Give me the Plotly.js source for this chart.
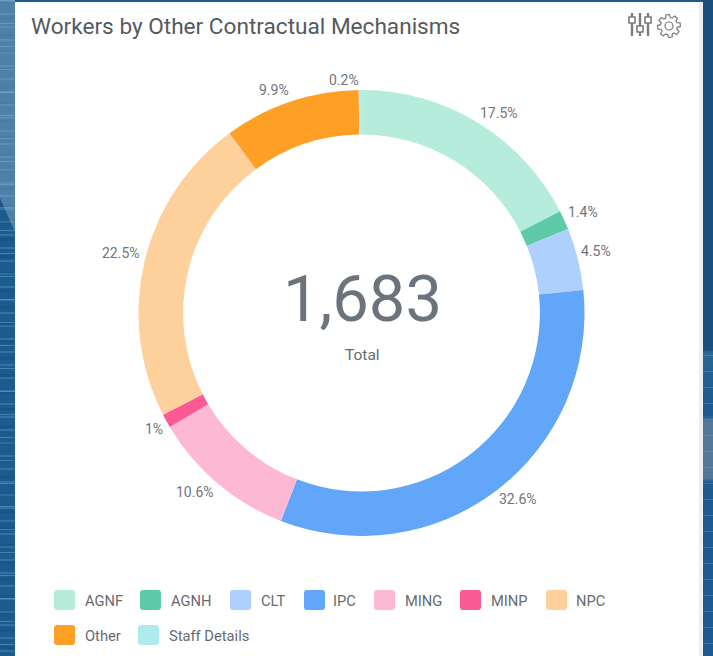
<!DOCTYPE html>
<html>
<head>
<meta charset="utf-8">
<script src="https://cdn.plot.ly/plotly-3.0.1.min.js"></script>
<style>
html,body{margin:0;padding:0;width:713px;height:656px;overflow:hidden;background:#1d5b8e;}
#stripes{position:absolute;left:0;top:0;width:15px;height:656px;background:
 repeating-linear-gradient(180deg,rgba(120,195,225,.40) 0 1px,rgba(0,0,0,0) 1px 23px),
 repeating-linear-gradient(180deg,rgba(70,150,195,.40) 0 2px,rgba(0,0,0,0) 2px 13px),
 repeating-linear-gradient(180deg,rgba(15,70,115,.30) 0 3px,rgba(0,0,0,0) 3px 17px);}
#light{position:absolute;left:0;top:0;width:15px;height:240px;background:rgba(170,195,215,.36);clip-path:polygon(0 0,100% 0,100% 232px,0 198px);}
#right{position:absolute;left:703px;top:0;width:10px;height:656px;background:
 linear-gradient(180deg,#1b4e7a 0,#1b4e7a 350px,#2a6795 352px,#1d5b8e 400px,#1d5b8e 415px,#54789a 422px,#54789a 478px,#1d5b8e 482px,#1d5b8e 656px);}
#right2{position:absolute;left:703px;top:355px;width:10px;height:301px;background:repeating-linear-gradient(180deg,rgba(100,170,210,.35) 0 1px,rgba(0,0,0,0) 1px 16px);}
#edge{position:absolute;left:699px;top:2px;width:4px;height:654px;background:#eeeeee;}
#chart{position:absolute;left:0;top:0;width:713px;height:656px;}
</style>
</head>
<body>
<div id="stripes"></div>
<div id="light"></div>
<div id="right"></div>
<div id="right2"></div>
<div id="chart"></div>
<script>
var categories = ["AGNF","AGNH","CLT","IPC","MING","MINP","NPC","Other","Staff Details"];
var percents = [17.5,1.4,4.5,32.6,10.6,1,22.5,9.9,0.2];
var colors = ["#b5ecdc","#5fcaa8","#aed0fd","#61a6f8","#fdb8d4","#fb5a92","#fdd09c","#fe9f26","#aeeaee"];
var totalText = "1,683";
var W = 713, H = 656;
function px(x){return x/W;}
function py(y){return 1-y/H;}
function pt(x,y){return px(x)+" "+py(y);}
function rrect(x,y,w,h,r,fill){
  return {type:"path",xref:"paper",yref:"paper",layer:"above",line:{width:0},fillcolor:fill,
    path:"M "+pt(x+r,y)+" L "+pt(x+w-r,y)+" Q "+pt(x+w,y)+" "+pt(x+w,y+r)+
    " L "+pt(x+w,y+h-r)+" Q "+pt(x+w,y+h)+" "+pt(x+w-r,y+h)+
    " L "+pt(x+r,y+h)+" Q "+pt(x,y+h)+" "+pt(x,y+h-r)+
    " L "+pt(x,y+r)+" Q "+pt(x,y)+" "+pt(x+r,y)+" Z"};
}
function txt(x,y,t,size,color,anchor){
  return {xref:"paper",yref:"paper",x:px(x),y:py(y),text:t,showarrow:false,xanchor:anchor||"left",yanchor:"middle",
    borderpad:0,font:{size:size,color:color,family:"Roboto"}};
}
var swatchX = [54,140,230,304,374,460,546,54,138];
var swatchY = [600,600,600,600,600,600,600,635,635];
var labelX = [84,170,260,332,404,490,575,84,168];
var pieLabelX = [499,583,596,518,195,154,121,274,344];
var pieLabelY = [113,212,251,499,492,429,253,90,80];
var shapes = [
  {type:"rect",xref:"paper",yref:"paper",x0:px(15),x1:px(699),y0:py(2),y1:py(656),fillcolor:"#ffffff",line:{width:0},layer:"below"},
  {type:"rect",xref:"paper",yref:"paper",x0:px(699),x1:px(703),y0:py(2),y1:py(656),fillcolor:"#eeeeee",line:{width:0},layer:"below"}
];
var annotations = [
  txt(30,26,"Workers by Other Contractual Mechanisms",22.6,"#555a5e"),
  txt(362,299,totalText,65,"#6b747c","center"),
  txt(362,355,"Total",15.5,"#666b70","center")
];
categories.forEach(function(c,i){
  shapes.push(rrect(swatchX[i],swatchY[i]-10,21,20,3,colors[i]));
  annotations.push(txt(labelX[i],swatchY[i]+1,c,14.7,"#666b70"));
});
percents.forEach(function(p,i){
  annotations.push(txt(pieLabelX[i],pieLabelY[i],p+"%",14,"#707579","center"));
});
// sliders icon
var ic="#7c7c7c";
[632,640,648].forEach(function(x,i){
  var knob=[20,29,20][i];
  shapes.push({type:"rect",xref:"paper",yref:"paper",x0:px(x-1.2),x1:px(x+1.2),y0:py(13),y1:py(36),fillcolor:ic,line:{width:0}});
  shapes.push({type:"rect",xref:"paper",yref:"paper",x0:px(x-3),x1:px(x+3),y0:py(knob-3),y1:py(knob+3),fillcolor:"#ffffff",line:{color:ic,width:1.6}});
});
// gear icon
var gear="";
for(var k=0;k<8;k++){
  var a=k*Math.PI/4-Math.PI/8, step=Math.PI/4;
  var pts=[[8.5,0.0],[11.5,0.15],[11.5,0.55],[8.5,0.7]];
  pts.forEach(function(q,j){
    var t=a+q[1]*step, X=669+q[0]*Math.cos(t), Y=26+q[0]*Math.sin(t);
    gear+=(k===0&&j===0?"M ":"L ")+pt(X,Y)+" ";
  });
}
gear+="Z";
shapes.push({type:"path",xref:"paper",yref:"paper",path:gear,fillcolor:"rgba(0,0,0,0)",line:{color:ic,width:1.2}});
shapes.push({type:"circle",xref:"paper",yref:"paper",x0:px(665),x1:px(673),y0:py(22),y1:py(30),fillcolor:"rgba(0,0,0,0)",line:{color:ic,width:1.2}});

var trace = {
  type:"pie",labels:categories,values:percents,marker:{colors:colors,line:{width:0}},
  hole:0.8,sort:false,direction:"clockwise",rotation:0,
  textinfo:"none",automargin:false,showlegend:false,
  domain:{x:[px(361.5-223),px(361.5+223)],y:[py(313+223),py(313-223)]}
};
Plotly.newPlot("chart",[trace],{
  width:W,height:H,margin:{l:0,r:0,t:0,b:0},paper_bgcolor:"rgba(0,0,0,0)",plot_bgcolor:"rgba(0,0,0,0)",
  showlegend:false,shapes:shapes,annotations:annotations
},{displayModeBar:false});
</script>
</body>
</html>
